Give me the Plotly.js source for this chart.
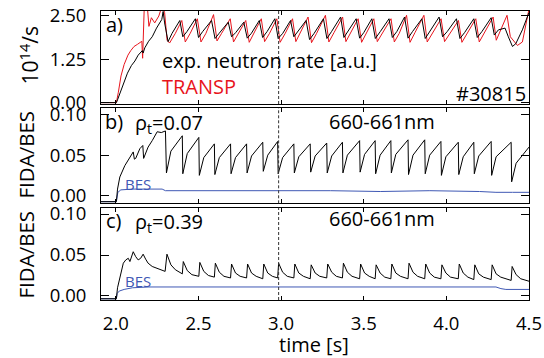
<!DOCTYPE html>
<html>
<head>
<meta charset="utf-8">
<script src="https://cdn.plot.ly/plotly-3.0.1.min.js"></script>
<style>html,body{margin:0;padding:0;background:#fff;}#chart{width:544px;height:358px;}</style>
</head>
<body>
<div id="chart"></div>
<script>
// ---------------- data ----------------
// a) exp. neutron rate (black) [10^14/s]
const neutronT = [1.91,2.003,2.01,2.03,2.052,2.07,2.094,2.115,2.135,2.15,2.16,2.165,2.175,2.198,2.22,2.246,2.266,2.278,2.286,2.295,2.316,
  2.34,2.387,2.405,2.43,2.481,2.50,2.525,2.579,2.60,2.625,2.68,2.70,2.725,2.774,2.795,2.82,2.868,2.888,2.915,2.962,2.982,3.01,3.057,3.077,3.10,
  3.151,3.172,3.20,3.256,3.277,3.305,3.36,3.38,3.405,3.454,3.475,3.50,3.549,3.57,3.60,3.653,3.673,3.70,3.747,3.768,3.795,3.852,3.872,3.90,
  3.956,3.977,4.005,4.061,4.082,4.11,4.166,4.187,4.215,4.271,4.29,4.315,4.355,4.375,4.40,4.42,4.46,4.5];
const neutronV = [0,0,0.08,0.35,0.67,0.85,1.07,1.2,1.37,1.45,1.5,1.43,1.58,1.77,1.9,2.15,2.29,2.4,2.63,2.3,1.76,
  2.0,2.37,1.9,2.05,2.42,1.88,2.05,2.37,1.85,2.0,2.32,1.9,2.02,2.32,1.86,2.0,2.37,1.88,2.05,2.42,1.85,2.0,2.37,1.9,2.05,
  2.37,1.82,2.0,2.42,1.85,2.05,2.47,1.88,2.05,2.42,1.86,2.02,2.42,1.85,2.05,2.42,1.88,2.05,2.47,1.86,2.05,2.42,1.85,2.05,
  2.47,1.9,2.05,2.42,1.85,2.02,2.42,1.88,2.05,2.45,1.95,2.1,2.15,1.9,1.62,1.7,2.1,2.6];
// a) TRANSP (red)
const transpT = [1.91,2.003,2.015,2.031,2.05,2.073,2.09,2.11,2.13,2.157,2.162,2.172,2.19,2.2,2.215,2.235,2.26,2.28,2.295,2.31,2.325,
  2.36,2.399,2.42,2.45,2.493,2.515,2.545,2.591,2.612,2.64,2.692,2.712,2.74,2.786,2.807,2.835,2.88,2.90,2.93,2.974,2.994,3.025,3.069,3.089,3.115,
  3.163,3.184,3.215,3.268,3.289,3.32,3.372,3.392,3.42,3.466,3.487,3.515,3.561,3.582,3.615,3.665,3.685,3.715,3.759,3.78,3.81,3.864,3.884,3.915,
  3.968,3.989,4.02,4.073,4.094,4.125,4.178,4.199,4.23,4.283,4.302,4.33,4.367,4.387,4.43,4.46,4.485,4.5];
const transpV = [0,0,0.3,0.77,1.1,1.37,1.5,1.62,1.68,1.77,1.28,2.8,2.8,2.2,2.45,2.3,2.5,2.8,2.6,1.8,1.72,
  2.0,2.37,1.75,2.0,2.42,1.75,2.0,2.54,1.78,2.0,2.42,1.75,2.0,2.37,1.74,2.0,2.42,1.76,2.0,2.42,1.74,2.0,2.42,1.76,2.02,
  2.47,1.73,2.0,2.52,1.75,2.02,2.47,1.76,2.0,2.42,1.74,2.0,2.42,1.76,2.02,2.42,1.75,2.0,2.52,1.74,2.02,2.52,1.75,2.0,
  2.42,1.76,2.0,2.37,1.74,2.0,2.42,1.75,2.02,2.47,1.8,2.1,2.52,1.9,1.65,1.75,2.3,2.7];

// b) FIDA/BES at rho_t = 0.07
const fidaCoreT = [1.91,2.003,2.010,2.024,2.054,2.085,2.105,2.112,2.12,2.145,2.163,2.168,2.18,2.195,2.22,2.236,2.25,2.275,2.300,
  2.306,2.333,2.402,2.405,2.432,2.502,2.505,2.532,2.596,2.599,2.626,2.694,2.697,2.724,2.791,2.794,2.821,2.889,2.892,2.919,2.979,
  2.982,3.009,3.077,3.080,3.107,3.176,3.179,3.206,3.276,3.279,3.306,3.371,3.374,3.401,3.475,3.478,3.505,3.569,3.572,3.599,3.664,
  3.667,3.694,3.768,3.771,3.798,3.869,3.872,3.899,3.967,3.970,3.997,4.072,4.075,4.102,4.166,4.169,4.196,4.271,4.274,4.301,4.392,
  4.395,4.422,4.5];
const fidaCoreV = [-0.0076,-0.0076,0.008,0.023,0.037,0.048,0.054,0.045,0.046,0.058,0.062,0.046,0.052,0.060,0.068,0.074,0.079,0.078,0.080,
  0.028,0.055,0.074,0.027,0.052,0.072,0.025,0.047,0.064,0.026,0.047,0.064,0.027,0.047,0.064,0.028,0.049,0.066,0.030,0.050,0.067,
  0.027,0.047,0.064,0.028,0.048,0.064,0.029,0.049,0.065,0.028,0.049,0.066,0.028,0.050,0.068,0.029,0.051,0.068,0.027,0.050,0.068,
  0.028,0.051,0.069,0.026,0.050,0.069,0.027,0.050,0.067,0.025,0.048,0.066,0.026,0.048,0.066,0.027,0.049,0.067,0.025,0.048,0.066,
  0.017,0.040,0.060];
const besCoreT = [1.91,2.003,2.012,2.03,2.1,2.28,2.3,2.6,3.0,3.3,3.6,3.9,4.2,4.3,4.4,4.5];
const besCoreV = [-0.0076,-0.0076,0.004,0.007,0.008,0.008,0.006,0.006,0.006,0.006,0.005,0.006,0.005,0.004,0.004,0.004];

// c) FIDA/BES at rho_t = 0.39
const fidaEdgeT = [1.91,2.003,2.010,2.024,2.045,2.06,2.075,2.085,2.095,2.105,2.12,2.135,2.15,2.165,2.18,2.195,2.22,2.246,2.298,
  2.309,2.333,2.36,2.402,2.408,2.432,2.46,2.502,2.508,2.532,2.56,2.596,2.602,2.626,2.654,2.694,2.700,2.724,2.752,2.791,
  2.797,2.821,2.849,2.889,2.895,2.919,2.947,2.979,2.985,3.009,3.037,3.077,3.083,3.107,3.135,3.176,3.182,3.206,3.234,3.276,
  3.282,3.306,3.334,3.371,3.377,3.401,3.429,3.475,3.481,3.505,3.533,3.569,3.575,3.599,3.627,3.664,3.670,3.694,3.722,3.768,
  3.774,3.798,3.826,3.869,3.875,3.899,3.927,3.967,3.973,3.997,4.025,4.072,4.078,4.102,4.130,4.166,4.172,4.196,4.224,4.271,
  4.277,4.301,4.329,4.392,4.398,4.422,4.45,4.5];
const fidaEdgeV = [-0.0034,-0.0034,0.010,0.022,0.040,0.044,0.046,0.042,0.048,0.054,0.048,0.044,0.046,0.051,0.045,0.040,0.036,0.034,0.030,
  0.051,0.038,0.032,0.027,0.042,0.031,0.026,0.024,0.041,0.030,0.025,0.023,0.040,0.029,0.024,0.022,0.039,0.028,0.024,0.022,
  0.039,0.028,0.024,0.021,0.039,0.028,0.024,0.022,0.040,0.029,0.024,0.022,0.039,0.028,0.024,0.021,0.038,0.028,0.024,0.022,
  0.039,0.029,0.024,0.022,0.040,0.029,0.024,0.021,0.039,0.028,0.024,0.021,0.038,0.028,0.023,0.021,0.039,0.028,0.024,0.021,
  0.040,0.029,0.024,0.021,0.039,0.028,0.023,0.021,0.038,0.028,0.023,0.021,0.039,0.028,0.023,0.020,0.038,0.027,0.023,0.020,
  0.038,0.027,0.023,0.019,0.036,0.026,0.021,0.018];
const besEdgeT = [1.91,2.003,2.008,2.02,2.05,2.1,2.2,2.4,2.8,3.2,3.6,4.0,4.3,4.33,4.36,4.5];
const besEdgeV = [-0.0034,-0.0034,0.003,0.006,0.008,0.010,0.011,0.011,0.011,0.011,0.011,0.011,0.011,0.009,0.008,0.008];

const xTicks = [2.0,2.5,3.0,3.5,4.0,4.5];
const yTicksA = [0,1.25,2.5];
const yTicksBC = [0,0.05,0.10];
const sawtoothMark = 2.985;

// ---------------- drawing ----------------
const FONT = 'Open Sans, Noto Sans, sans-serif';
const RED = '#e8141c', BLUE = '#3f58b4';
const line = (c) => ({color: c, width: 1});
const traces = [
  {x: transpT, y: transpV, xaxis: 'x', yaxis: 'y', mode: 'lines', line: line(RED)},
  {x: neutronT, y: neutronV, xaxis: 'x', yaxis: 'y', mode: 'lines', line: line('#000')},
  {x: besCoreT, y: besCoreV, xaxis: 'x2', yaxis: 'y2', mode: 'lines', line: line(BLUE)},
  {x: fidaCoreT, y: fidaCoreV, xaxis: 'x2', yaxis: 'y2', mode: 'lines', line: line('#000')},
  {x: besEdgeT, y: besEdgeV, xaxis: 'x3', yaxis: 'y3', mode: 'lines', line: line(BLUE)},
  {x: fidaEdgeT, y: fidaEdgeV, xaxis: 'x3', yaxis: 'y3', mode: 'lines', line: line('#000')}
];

const L = 101, R = 529, T = 11, B = 300;
const W = R - L, H = B - T;
const px = (X) => (X - L) / W, py = (Y) => (B - Y) / H;

const xBase = {range: [1.91, 4.5], tickvals: xTicks, ticks: 'inside', ticklen: 4, tickwidth: 1, tickcolor: '#000',
  showline: true, linecolor: '#000', linewidth: 1, mirror: 'ticks', showgrid: false, zeroline: false,
  tickfont: {family: FONT, size: 18.5, color: '#000'}, tickformat: '.1f', fixedrange: true};
const yBase = {ticks: 'inside', ticklen: 8, tickwidth: 1, tickcolor: '#000', showline: true, linecolor: '#000',
  linewidth: 1, mirror: 'ticks', showgrid: false, zeroline: false, tickformat: '.2f', ticklabelstandoff: 10,
  tickfont: {family: FONT, size: 18.5, color: '#000'}, fixedrange: true};

const ann = (text, X, Y, opt) => Object.assign({text: text, xref: 'paper', yref: 'paper', x: px(X), y: py(Y),
  showarrow: false, xanchor: 'left', yanchor: 'middle', font: {family: FONT, size: 20, color: '#000'}}, opt || {});

const annotations = [
  ann('a)', 114, 25, {xanchor: 'center'}),
  ann('exp. neutron rate [a.u.]', 160, 60.5),
  ann('TRANSP', 160, 86.5, {font: {family: FONT, size: 20, color: RED}}),
  ann('#30815', 528, 94, {xanchor: 'right'}),
  ann('b)', 114, 121.5, {xanchor: 'center'}),
  ann('ρ<sub>t</sub>=0.07', 133, 123),
  ann('660-661nm', 382, 121.6, {xanchor: 'center'}),
  ann('BES', 123, 184, {font: {family: FONT, size: 15, color: BLUE}}),
  ann('c)', 114, 220.5, {xanchor: 'center'}),
  ann('ρ<sub>t</sub>=0.39', 133, 222),
  ann('660-661nm', 382, 219, {xanchor: 'center'}),
  ann('BES', 123, 281, {font: {family: FONT, size: 15, color: BLUE}}),
  ann('time [s]', 314, 344, {xanchor: 'center'}),
  ann('10<sup>14</sup>/s', 28.5, 55, {xanchor: 'center', textangle: -90, font: {family: FONT, size: 21, color: '#000'}}),
  ann('FIDA/BES', 25.5, 155, {xanchor: 'center', textangle: -90, font: {family: FONT, size: 20.5, color: '#000'}}),
  ann('FIDA/BES', 25.5, 255, {xanchor: 'center', textangle: -90, font: {family: FONT, size: 20.5, color: '#000'}})
];

const dash = (xr, yr) => ({type: 'line', xref: xr, yref: yr + ' domain', x0: sawtoothMark, x1: sawtoothMark, y0: 0, y1: 1,
  line: {color: '#333', width: 1, dash: '3px,2px'}});

const layout = {
  width: 544, height: 358, margin: {l: L, r: 544 - R, t: T, b: 358 - B},
  paper_bgcolor: '#fff', plot_bgcolor: '#fff', showlegend: false,
  font: {family: FONT, color: '#000'},
  xaxis: Object.assign({}, xBase, {anchor: 'y', showticklabels: false}),
  xaxis2: Object.assign({}, xBase, {anchor: 'y2', showticklabels: false}),
  xaxis3: Object.assign({}, xBase, {anchor: 'y3', ticklabelstandoff: 7}),
  yaxis: Object.assign({}, yBase, {domain: [py(104), 1], range: [-0.04, 2.644], tickvals: yTicksA}),
  yaxis2: Object.assign({}, yBase, {domain: [py(203.3), py(108)], range: [-0.0096, 0.1084], tickvals: yTicksBC}),
  yaxis3: Object.assign({}, yBase, {domain: [0, py(207.7)], range: [-0.0049, 0.1077], tickvals: yTicksBC}),
  shapes: [dash('x', 'y'), dash('x2', 'y2'), dash('x3', 'y3')],
  annotations: annotations
};

Plotly.newPlot('chart', traces, layout, {staticPlot: true, displayModeBar: false});
</script>
</body>
</html>
